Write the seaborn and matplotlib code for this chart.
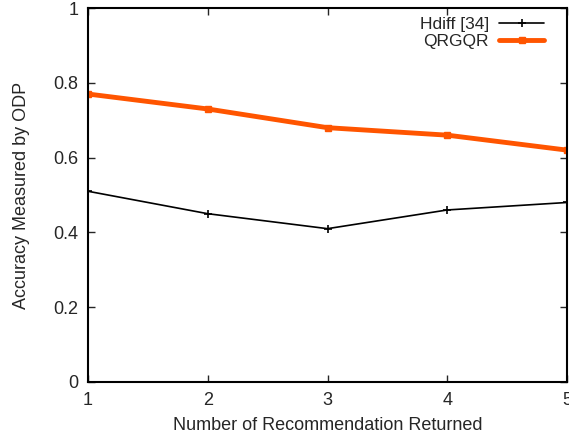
import matplotlib
matplotlib.use("Agg")
import matplotlib.pyplot as plt
import seaborn as sns
import pandas as pd

x_vals = [1, 2, 3, 4, 5]
hdiff = [0.51, 0.45, 0.41, 0.46, 0.48]
qrgqr = [0.77, 0.73, 0.68, 0.66, 0.62]
series_names = ["Hdiff [34]", "QRGQR"]
x_label = "Number of Recommendation Returned"
y_label = "Accuracy Measured by ODP"

sns.set_style("ticks")
plt.rcParams['font.family'] = ['Liberation Sans', 'DejaVu Sans']

df = pd.DataFrame({"x": x_vals * 2,
                   "y": hdiff + qrgqr,
                   "series": [series_names[0]] * 5 + [series_names[1]] * 5})

fig = plt.figure(figsize=(5.69, 4.43), dpi=100)
ax = fig.add_axes([88/569, 1-382/443, 479/569, 374/443])

sns.lineplot(data=df[df.series == series_names[0]], x="x", y="y", ax=ax,
             color="black", linewidth=1.2, marker="+", markersize=6,
             markeredgewidth=1.2, markeredgecolor="black", label=series_names[0])
sns.lineplot(data=df[df.series == series_names[1]], x="x", y="y", ax=ax,
             color="#ff5500", linewidth=3.5, marker="s", markersize=5,
             markeredgewidth=1.0, markeredgecolor="#ff5500", label=series_names[1])

ax.set_xlim(1, 5)
ax.set_ylim(0, 1)
ax.set_xticks(x_vals)
ax.set_yticks([0, 0.2, 0.4, 0.6, 0.8, 1])
ax.set_yticklabels(["0", "0.2", "0.4", "0.6", "0.8", "1"])
ax.tick_params(direction="in", length=5, width=1, labelsize=13, pad=7, top=True, right=True)
for s in ax.spines.values():
    s.set_linewidth(1.5)
    s.set_color("black")
ax.set_xlabel(x_label, fontsize=13, labelpad=6)
ax.set_ylabel(y_label, fontsize=13, labelpad=17)
ax.legend(loc="upper right", frameon=False, markerfirst=False, fontsize=12.5,
          handlelength=2.6, handletextpad=0.6, borderaxespad=0, borderpad=0,
          labelspacing=0.1, bbox_to_anchor=(0.953, 0.977))

fig.savefig("out.png", dpi=100)
